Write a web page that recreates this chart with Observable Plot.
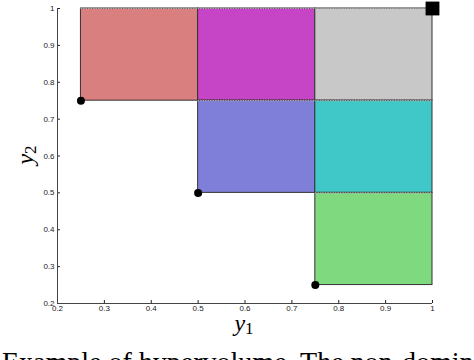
<!DOCTYPE html>
<html>
<head>
<meta charset="utf-8">
<script src="https://cdn.jsdelivr.net/npm/d3@7"></script>
<script src="https://cdn.jsdelivr.net/npm/@observablehq/plot@0.6"></script>
<style>
  body { margin: 0; background: #fff; width: 474px; height: 360px; overflow: hidden; position: relative; }
  #caption { position: absolute; left: 2px; top: 348px; font-family: "Liberation Serif", "DejaVu Serif", serif; font-size: 28px; line-height: 28px; white-space: nowrap; color: #000; }
</style>
</head>
<body>
<div id="chart"></div>
<div id="caption">Example of hypervolume. The non-dominated</div>
<script>
// Hypervolume boxes (y1 range, y2 range, fill)
const boxX1 = [0.25, 0.5, 0.75, 0.5, 0.75, 0.75];
const boxX2 = [0.5, 0.75, 1.0, 0.75, 1.0, 1.0];
const boxY1 = [0.75, 0.75, 0.75, 0.5, 0.5, 0.25];
const boxY2 = [1.0, 1.0, 1.0, 0.75, 0.75, 0.5];
const boxColors = ["#d97f7f", "#c644c6", "#c8c8c8", "#7f7fd9", "#40c8c8", "#7fd97f"];

// Non-dominated points
const ptY1 = [0.25, 0.5, 0.75];
const ptY2 = [0.75, 0.5, 0.25];

// Reference point
const refY1 = [1.0];
const refY2 = [1.0];

const xTicks = [0.2, 0.3, 0.4, 0.5, 0.6, 0.7, 0.8, 0.9, 1];
const yTicks = [0.2, 0.3, 0.4, 0.5, 0.6, 0.7, 0.8, 0.9, 1];
const xDomain = [0.2, 1];
const yDomain = [0.2, 1];

const boxes = boxX1.map((x1, i) => ({x1, x2: boxX2[i], y1: boxY1[i], y2: boxY2[i], c: boxColors[i]}));
const pts = ptY1.map((x, i) => ({x, y: ptY2[i]}));
const refs = refY1.map((x, i) => ({x, y: refY2[i]}));

const fmt = d => (d === 1 ? "1" : String(d));

const svg = Plot.plot({
  width: 474,
  height: 340,
  marginLeft: 57,
  marginRight: 42,
  marginTop: 8,
  marginBottom: 37,
  style: {fontFamily: "'Liberation Sans', Arial, sans-serif", fontSize: "8px", color: "#222", background: "#fff"},
  x: {domain: xDomain, ticks: xTicks, tickFormat: fmt, tickSize: -3, tickPadding: 4.5, label: null},
  y: {domain: yDomain, ticks: yTicks, tickFormat: fmt, tickSize: -3, tickPadding: 6, label: null},
  marks: [
    Plot.rect(boxes, {x1: "x1", x2: "x2", y1: "y1", y2: "y2", fill: "c", stroke: "#333", strokeWidth: 1}),
    Plot.ruleY(boxes, {y: "y2", x1: "x1", x2: "x2", stroke: "#aaa", strokeWidth: 1.2, strokeDasharray: "1.5,1"}),
    Plot.ruleX([xDomain[0]], {stroke: "#444", strokeWidth: 1}),
    Plot.ruleY([yDomain[0]], {stroke: "#444", strokeWidth: 1}),
    Plot.dot(pts, {x: "x", y: "y", r: 4, fill: "#000", stroke: null}),
    Plot.dot(refs, {x: "x", y: "y", r: 7.8, symbol: "square", fill: "#000", stroke: null})
  ]
});

document.getElementById("chart").appendChild(svg);

// Axis titles with subscripts, as real text
const s = d3.select(svg);
const serif = "'Liberation Serif', 'DejaVu Serif', serif";
const t1 = s.append("text")
  .attr("x", 244).attr("y", 331)
  .attr("text-anchor", "middle")
  .attr("font-family", serif).attr("font-size", 24).attr("fill", "#000");
t1.append("tspan").attr("font-style", "italic").text("y");
t1.append("tspan").attr("font-size", 17).attr("dy", 3).text("1");

const t2 = s.append("text")
  .attr("transform", "translate(33,155) rotate(-90)")
  .attr("text-anchor", "middle")
  .attr("font-family", serif).attr("font-size", 24).attr("fill", "#000");
t2.append("tspan").attr("font-style", "italic").text("y");
t2.append("tspan").attr("font-size", 17).attr("dy", 3).text("2");
</script>
</body>
</html>
